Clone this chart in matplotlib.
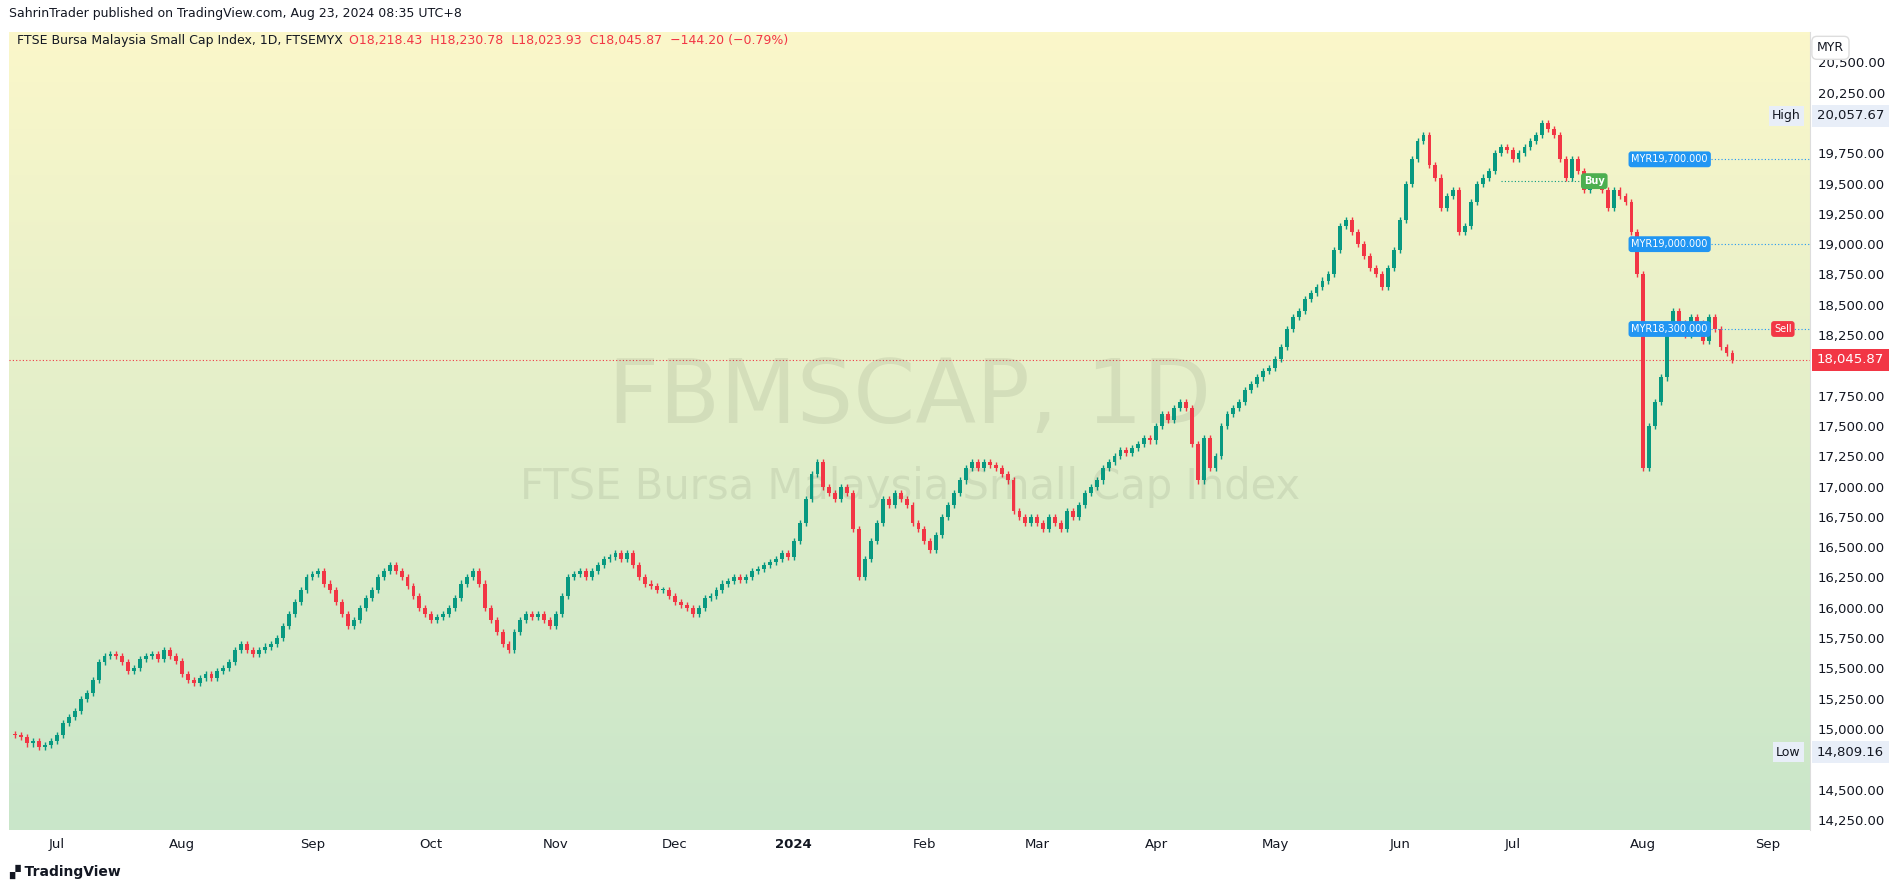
import matplotlib
matplotlib.use("Agg")
import matplotlib.pyplot as plt
import numpy as np
from matplotlib.colors import LinearSegmentedColormap

jun23 = [14950,14930,14880,14900,14850,14870,14900]
jul23 = [14950,15050,15100,15150,15250,15300,15400,15550,15600,15620,15600,15550,15480,15500,15580,15600,15620,15580,15650,15600,15560]
aug23 = [15450,15400,15380,15420,15450,15420,15480,15500,15550,15650,15700,15650,15620,15650,15680,15700,15750,15850,15950,16050,16150,16250]
sep23 = [16280,16300,16200,16150,16050,15950,15850,15900,16000,16080,16150,16250,16300,16350,16300,16250,16180,16100,16000,15950]
oct23 = [15900,15920,15950,16000,16080,16200,16250,16300,16200,16000,15900,15800,15700,15650,15800,15900,15950,15920,15950,15900,15850]
nov23 = [15950,16100,16250,16280,16300,16250,16300,16350,16400,16420,16450,16400,16450,16350,16250,16200,16180,16150,16150,16100]
dec23 = [16050,16020,16000,15950,16000,16080,16100,16150,16200,16220,16250,16230,16250,16300,16320,16350,16380,16400,16450,16420]
jan24 = [16550,16700,16900,17100,17200,17000,16950,16900,17000,16950,16650,16250,16400,16550,16700,16900,16850,16950,16900,16850,16700,16650]
feb24 = [16550,16480,16600,16750,16850,16950,17050,17150,17200,17150,17200,17180,17150,17100,17050,16800,16750,16700,16750]
mar24 = [16700,16650,16750,16700,16650,16800,16750,16850,16950,17000,17050,17150,17200,17250,17300,17280,17320,17350,17400,17380]
apr24 = [17500,17600,17550,17650,17700,17650,17350,17050,17400,17150,17250,17500,17600,17650,17700,17800,17850,17900,17950,17980]
may24 = [18050,18150,18300,18400,18450,18550,18600,18650,18700,18750,18950,19150,19200,19100,19000,18900,18800,18750,18650,18800,18950]
jun24 = [19200,19500,19700,19850,19900,19650,19550,19300,19400,19450,19100,19150,19350,19500,19550,19600,19750,19800,19780]
jul24 = [19700,19750,19800,19850,19900,20000,19950,19900,19700,19550,19700,19600,19450,19500,19550,19450,19300,19450,19400,19350,19100,18750]
aug24 = [17150,17500,17700,17900,18300,18450,18350,18250,18400,18350,18200,18400,18300,18150,18100,18045.87]

months = [jun23, jul23, aug23, sep23, oct23, nov23, dec23, jan24, feb24, mar24, apr24, may24, jun24, jul24, aug24]
month_labels = ["Jul","Aug","Sep","Oct","Nov","Dec","2024","Feb","Mar","Apr","May","Jun","Jul","Aug","Sep"]
y_ticks = [14250,14500,14750,15000,15250,15500,15750,16000,16250,16500,16750,17000,17250,17500,17750,18000,18250,18500,18750,19000,19250,19500,19750,20000,20250,20500]
hidden_ticks = [14750, 18000, 20000]

closes = np.array([v for m in months for v in m], dtype=float)
opens = np.concatenate([[14960.0], closes[:-1]])
highs = np.maximum(opens, closes) + 25
lows = np.minimum(opens, closes) - 25
n = len(closes)
starts = np.cumsum([0] + [len(m) for m in months])
tick_pos = list(starts[1:-1]) + [n + 5]

W, H = 1891, 891
fig = plt.figure(figsize=(W/100, H/100), dpi=100)
ax = fig.add_axes([0.005, 0.069, 0.952, 0.895])
x0, x1 = -1, n + 12
ymin, ymax = 14170, 20750
grad = np.linspace(0, 1, 256).reshape(-1, 1)
cmap = LinearSegmentedColormap.from_list("bg", ["#c9e6c9", "#fbf7c9"])
ax.imshow(grad, extent=[x0, x1, ymin, ymax], origin="lower", aspect="auto", cmap=cmap, zorder=0)
ax.set_xlim(x0, x1); ax.set_ylim(ymin, ymax)

up, dn = "#089981", "#f23645"
for i in range(n):
    c = up if closes[i] >= opens[i] else dn
    ax.vlines(i, lows[i], highs[i], color=c, lw=1, zorder=3)
    b = min(opens[i], closes[i]); h = max(abs(closes[i]-opens[i]), 8)
    ax.bar(i, h, bottom=b, width=0.65, color=c, zorder=4)

ax.axhline(closes[-1], color=dn, ls=(0, (1, 2)), lw=0.8, zorder=2)
ax.text(0.5, 0.54, "FBMSCAP, 1D", transform=ax.transAxes, ha="center", va="center", fontsize=64, color="#000000", alpha=0.07)
ax.text(0.5, 0.43, "FTSE Bursa Malaysia Small Cap Index", transform=ax.transAxes, ha="center", va="center", fontsize=30, color="#000000", alpha=0.07)

ax.yaxis.tick_right()
ax.set_yticks(y_ticks)
ax.set_yticklabels(["" if v in hidden_ticks else f"{v:,.2f}" for v in y_ticks], fontsize=9.5, color="#131722")
ax.set_xticks(tick_pos)
ax.set_xticklabels(month_labels, fontsize=9.5, color="#131722")
for lbl in ax.get_xticklabels():
    if lbl.get_text() == "2024": lbl.set_fontweight("bold")
ax.tick_params(length=0, pad=6)
for s in ax.spines.values(): s.set_visible(False)
ax.spines["right"].set_visible(True); ax.spines["right"].set_color("#dddddd")

def rtag(y, txt, fc, tc, label=None):
    ax.text(1.004, y, txt, transform=ax.get_yaxis_transform(), fontsize=9.5, va="center", ha="left", color=tc,
            bbox=dict(boxstyle="square,pad=0.35", fc=fc, ec="none"), zorder=10)
    if label:
        ax.text(0.995, y, label, transform=ax.get_yaxis_transform(), fontsize=9, va="center", ha="right", color="#131722",
                bbox=dict(boxstyle="square,pad=0.25", fc="#e8eef8", ec="none"), zorder=10)
rtag(20057.67, "20,057.67", "#e8eef8", "#131722", "High")
rtag(14809.16, "14,809.16", "#e8eef8", "#131722", "Low")
rtag(closes[-1], f"{closes[-1]:,.2f}", dn, "white")
ax.text(1.004, 20620, "MYR", transform=ax.get_yaxis_transform(), fontsize=9, va="center", color="#131722",
        bbox=dict(boxstyle="round,pad=0.4", fc="white", ec="#dddddd"))

for lev, txt in [(19700, "MYR19,700.000"), (19000, "MYR19,000.000"), (18300, "MYR18,300.000")]:
    ax.plot([n - 8, x1], [lev, lev], color="#2196f3", ls=(0, (1, 2)), lw=0.8, zorder=5)
    ax.text(n - 18, lev, txt, fontsize=7, color="white", va="center", ha="left", zorder=11,
            bbox=dict(boxstyle="round,pad=0.3", fc="#2196f3", ec="none"))
ax.plot([n - 40, n - 26], [19520, 19520], color="#089981", ls=(0, (1, 2)), lw=0.8)
ax.text(n - 26, 19520, "Buy", fontsize=7, color="white", va="center", ha="left", fontweight="bold",
        bbox=dict(boxstyle="round,pad=0.3", fc="#4caf50", ec="none"), zorder=11)
ax.text(n + 6, 18300, "Sell", fontsize=7, color="white", va="center", ha="left",
        bbox=dict(boxstyle="round,pad=0.3", fc="#f23645", ec="none"), zorder=11)

fig.text(0.005, 0.985, "SahrinTrader published on TradingView.com, Aug 23, 2024 08:35 UTC+8", fontsize=9, va="center", color="#131722")
t1 = fig.text(0.009, 0.955, "FTSE Bursa Malaysia Small Cap Index, 1D, FTSEMYX", fontsize=9, va="center", color="#131722")
fig.canvas.draw()
bb = t1.get_window_extent()
fig.text(bb.x1 / fig.bbox.width + 0.003, 0.955, "O18,218.43  H18,230.78  L18,023.93  C18,045.87  −144.20 (−0.79%)",
         fontsize=9, va="center", ha="left", color="#f23645")
fig.text(0.005, 0.022, "▞ TradingView", fontsize=10, va="center", color="#131722", fontweight="bold")
fig.savefig("out.png", dpi=100)
